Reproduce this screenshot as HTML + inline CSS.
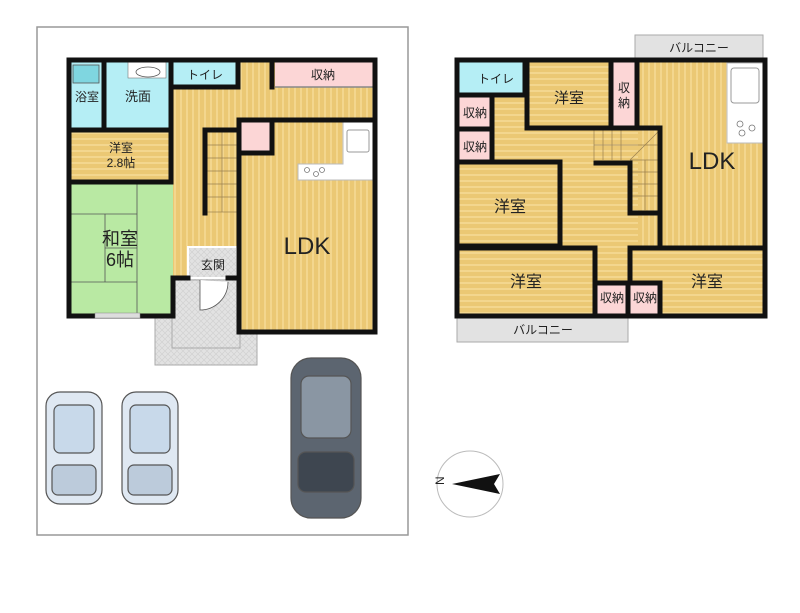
<!DOCTYPE html><html><head><meta charset="utf-8"><style>body{margin:0;background:#fff}svg{display:block}text{font-family:"Liberation Sans","Noto Sans CJK JP",sans-serif;fill:#222}</style></head><body>
<svg width="800" height="613" viewBox="0 0 800 613" xmlns="http://www.w3.org/2000/svg">
<defs>
<pattern id="wv" width="6" height="6" patternUnits="userSpaceOnUse"><rect width="6" height="6" fill="#ebc874"/><rect width="2" height="6" fill="#f3d68e"/></pattern>
<pattern id="wh" width="6" height="6" patternUnits="userSpaceOnUse"><rect width="6" height="6" fill="#ebc874"/><rect width="6" height="2" fill="#f3d68e"/></pattern>
<pattern id="gr" width="6" height="6" patternUnits="userSpaceOnUse"><rect width="6" height="6" fill="#e2e2e2"/><path d="M0 0L6 6M6 0L0 6" stroke="#cfcfcf" stroke-width="0.6"/></pattern>
</defs>
<rect x="37" y="27" width="371" height="508" fill="none" stroke="#999" stroke-width="1.5"/>
<rect x="155" y="278" width="102" height="87" fill="url(#gr)" stroke="#aaa"/>
<rect x="172" y="280" width="68" height="68" fill="none" stroke="#aaa"/>
<rect x="173" y="60" width="202" height="60" fill="url(#wv)"/>
<rect x="173" y="120" width="66" height="158" fill="url(#wv)"/>
<rect x="239" y="120" width="136" height="212" fill="url(#wv)"/>
<rect x="69" y="60" width="104" height="70" fill="#b5eef5"/>
<rect x="73" y="65" width="26" height="18" fill="#7fd6e0" stroke="#555" stroke-width="0.8"/>
<rect x="128" y="62" width="38" height="16" fill="#fff" stroke="#777" stroke-width="0.6"/>
<ellipse cx="148" cy="72" rx="12" ry="5" fill="#fff" stroke="#555" stroke-width="0.8"/>
<rect x="173" y="60" width="65" height="27" fill="#b5eef5"/>
<rect x="275" y="62" width="98" height="25" fill="#fcd6d6"/>
<line x1="275" y1="87" x2="373" y2="87" stroke="#888" stroke-width="1.5"/>
<rect x="69" y="130" width="104" height="50" fill="url(#wh)"/>
<rect x="69" y="182" width="104" height="134" fill="#b9e9a3"/>
<g stroke="#555" stroke-width="0.8" fill="none"><line x1="137" y1="182" x2="137" y2="316"/><line x1="69" y1="214" x2="137" y2="214"/><line x1="69" y1="282" x2="137" y2="282"/><line x1="105" y1="214" x2="105" y2="282"/><line x1="105" y1="248" x2="137" y2="248"/></g>
<rect x="240" y="122" width="32" height="31" fill="#fcd6d6"/>
<path d="M343 122H373V180H298V164H343Z" fill="#fff" stroke="#bbb"/>
<rect x="347" y="130" width="22" height="22" fill="#fff" stroke="#999" rx="2"/>
<g fill="none" stroke="#777" stroke-width="0.8"><circle cx="307" cy="170" r="2.5"/><circle cx="316" cy="174" r="2.5"/><circle cx="322" cy="170" r="2.5"/></g>
<g stroke="#9a8050" stroke-width="0.7"><rect x="207" y="132" width="30" height="80" fill="url(#wv)"/><line x1="207" y1="145" x2="237" y2="145"/><line x1="207" y1="158" x2="237" y2="158"/><line x1="207" y1="171" x2="237" y2="171"/><line x1="207" y1="184" x2="237" y2="184"/><line x1="207" y1="197" x2="237" y2="197"/><line x1="222" y1="132" x2="222" y2="212"/></g>
<rect x="188" y="247" width="49" height="31" fill="url(#gr)" stroke="#fff" stroke-width="2"/>
<path d="M200 280V310A28 28 0 0 0 228 282" fill="#fff" stroke="#555" stroke-width="0.8"/>
<g stroke="#111" stroke-width="5" fill="none" stroke-linecap="square">
<path d="M69 60H375V332H239V120"/><path d="M69 60V316H173V278"/>
<line x1="104" y1="60" x2="104" y2="130"/><line x1="171" y1="60" x2="171" y2="182"/><line x1="69" y1="130" x2="171" y2="130"/><line x1="69" y1="182" x2="171" y2="182"/>
<line x1="238" y1="60" x2="238" y2="87"/><line x1="173" y1="87" x2="238" y2="87"/><line x1="272" y1="60" x2="272" y2="87"/>
<line x1="239" y1="120" x2="375" y2="120"/><line x1="272" y1="120" x2="272" y2="153"/><line x1="239" y1="153" x2="272" y2="153"/>
<line x1="205" y1="130" x2="205" y2="213"/><line x1="205" y1="130" x2="237" y2="130"/><line x1="173" y1="278" x2="188" y2="278"/><line x1="228" y1="278" x2="239" y2="278"/>
</g>
<rect x="95" y="313" width="45" height="5" fill="#ddd" stroke="#888" stroke-width="0.5"/>
<text x="87" y="101" font-size="12" text-anchor="middle">浴室</text>
<text x="138" y="101" font-size="13" text-anchor="middle">洗面</text>
<text x="205" y="79" font-size="12" text-anchor="middle">トイレ</text>
<text x="323" y="79" font-size="12" text-anchor="middle">収納</text>
<text x="121" y="152" font-size="12" text-anchor="middle">洋室</text>
<text x="121" y="167" font-size="12" text-anchor="middle">2.8帖</text>
<text x="120" y="245" font-size="18" text-anchor="middle">和室</text>
<text x="120" y="266" font-size="18" text-anchor="middle">6帖</text>
<text x="213" y="269" font-size="12" text-anchor="middle">玄関</text>
<text x="307" y="254" font-size="24" text-anchor="middle">LDK</text>
<g stroke="#555" stroke-width="1.2">
<rect x="46" y="392" width="56" height="112" rx="14" fill="#dfe8f2"/><rect x="54" y="405" width="40" height="48" rx="6" fill="#c8d9ea"/><rect x="52" y="465" width="44" height="30" rx="6" fill="#bccbdb"/>
<rect x="122" y="392" width="56" height="112" rx="14" fill="#dfe8f2"/><rect x="130" y="405" width="40" height="48" rx="6" fill="#c8d9ea"/><rect x="128" y="465" width="44" height="30" rx="6" fill="#bccbdb"/>
<rect x="291" y="358" width="70" height="160" rx="20" fill="#5c6570"/><rect x="301" y="376" width="50" height="62" rx="8" fill="#8a96a3"/><rect x="298" y="452" width="56" height="40" rx="8" fill="#3e4650"/>
</g>
<circle cx="470" cy="484" r="33" fill="#fff" stroke="#bbb"/>
<path d="M452 484L500 474L494 484L500 494Z" fill="#111"/>
<text x="440" y="489" font-size="12" transform="rotate(-90 440 485)">N</text>
<rect x="635" y="35" width="128" height="25" fill="#e2e2e2" stroke="#aaa"/>
<rect x="457" y="316" width="171" height="26" fill="#e2e2e2" stroke="#aaa"/>
<rect x="457" y="60" width="308" height="256" fill="url(#wh)"/>
<rect x="638" y="60" width="127" height="186" fill="url(#wv)"/>
<rect x="727" y="63" width="36" height="80" fill="#fff" stroke="#bbb"/>
<rect x="731" y="68" width="28" height="35" rx="3" fill="#fff" stroke="#999"/>
<g fill="none" stroke="#777" stroke-width="0.8"><circle cx="740" cy="124" r="3"/><circle cx="752" cy="128" r="3"/><circle cx="742" cy="133" r="3"/></g>
<rect x="459" y="62" width="66" height="31" fill="#b5eef5"/>
<rect x="613" y="62" width="24" height="66" fill="#fcd6d6"/>
<rect x="459" y="97" width="32" height="31" fill="#fcd6d6"/>
<rect x="459" y="131" width="32" height="29" fill="#fcd6d6"/>
<rect x="597" y="283" width="30" height="33" fill="#fcd6d6"/>
<rect x="630" y="283" width="30" height="33" fill="#fcd6d6"/>
<g stroke="#9a8050" stroke-width="0.7" fill="none"><line x1="594" y1="130" x2="594" y2="160"/><line x1="603" y1="130" x2="603" y2="160"/><line x1="612" y1="130" x2="612" y2="160"/><line x1="621" y1="130" x2="621" y2="160"/><line x1="594" y1="145" x2="660" y2="145"/><line x1="630" y1="160" x2="660" y2="160"/><line x1="630" y1="172" x2="660" y2="172"/><line x1="630" y1="184" x2="660" y2="184"/><line x1="630" y1="196" x2="660" y2="196"/><line x1="645" y1="160" x2="645" y2="210"/><line x1="630" y1="160" x2="660" y2="130"/></g>
<g stroke="#111" stroke-width="5" fill="none" stroke-linecap="square">
<rect x="457" y="60" width="308" height="256"/>
<path d="M459 95H525V60"/><path d="M527 60V128H637V60"/><line x1="611" y1="60" x2="611" y2="128"/>
<path d="M637 60V128H660V248"/><path d="M492 95V162"/><line x1="459" y1="129" x2="492" y2="129"/>
<path d="M459 162H560V246H459"/><path d="M596 163H630V213H660"/>
<path d="M459 248H595V316"/><path d="M595 283H660"/><path d="M628 283V316"/><path d="M630 283V248H765"/><line x1="660" y1="283" x2="660" y2="316"/>
</g>
<text x="496" y="83" font-size="12" text-anchor="middle">トイレ</text>
<text x="569" y="103" font-size="15" text-anchor="middle">洋室</text>
<text x="624" y="92" font-size="12" text-anchor="middle">収</text><text x="624" y="107" font-size="12" text-anchor="middle">納</text>
<text x="475" y="117" font-size="12" text-anchor="middle">収納</text>
<text x="475" y="151" font-size="12" text-anchor="middle">収納</text>
<text x="510" y="212" font-size="16" text-anchor="middle">洋室</text>
<text x="526" y="287" font-size="16" text-anchor="middle">洋室</text>
<text x="707" y="287" font-size="16" text-anchor="middle">洋室</text>
<text x="612" y="302" font-size="12" text-anchor="middle">収納</text>
<text x="645" y="302" font-size="12" text-anchor="middle">収納</text>
<text x="712" y="169" font-size="24" text-anchor="middle">LDK</text>
<text x="699" y="52" font-size="12" text-anchor="middle">バルコニー</text>
<text x="543" y="334" font-size="12" text-anchor="middle">バルコニー</text>
</svg></body></html>
